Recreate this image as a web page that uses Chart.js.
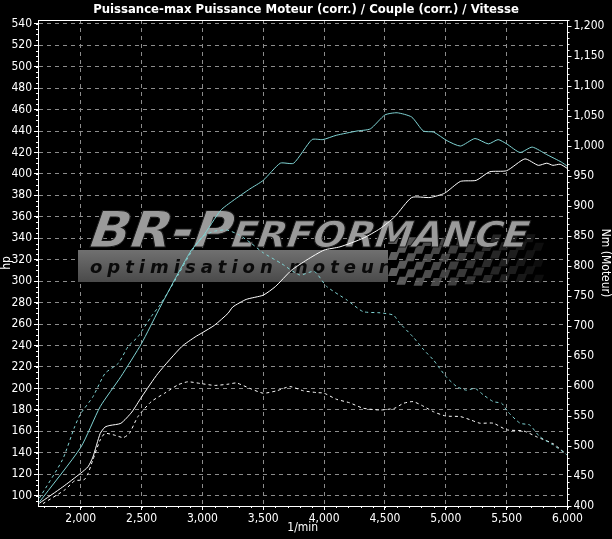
<!DOCTYPE html>
<html>
<head>
<meta charset="utf-8">
<script src="https://cdn.jsdelivr.net/npm/chart.js@4.4.1/dist/chart.umd.min.js"></script>
<style>
html, body { margin: 0; padding: 0; background: #000; }
canvas { display: block; }
</style>
</head>
<body>
<canvas id="dynoChart" width="612" height="539"></canvas>
<script>
// axis ticks
var hpTicks = [100, 120, 140, 160, 180, 200, 220, 240, 260, 280, 300, 320, 340, 360, 380, 400, 420, 440, 460, 480, 500, 520, 540];
var nmTicks = [400, 450, 500, 550, 600, 650, 700, 750, 800, 850, 900, 950, 1000, 1050, 1100, 1150, 1200];
var rpmTicks = [2000, 2500, 3000, 3500, 4000, 4500, 5000, 5500, 6000];

// Puissance-max (cyan, solid) - hp
var maxPowerRpm = [1660, 2000, 2160, 2330, 2500, 2640, 2770, 2910, 3000, 3150, 3250, 3390, 3500, 3640, 3750, 3900, 3990, 4100, 4270, 4380, 4500, 4600, 4720, 4815, 4900, 5010, 5120, 5240, 5350, 5430, 5500, 5610, 5710, 5830, 5950, 6000];
var maxPowerHp = [94, 145, 183, 211, 242, 273, 301, 329, 341, 366, 375, 386, 394, 410, 410, 432, 432, 436, 440, 442, 455, 457, 453, 440, 439, 431, 426, 433, 428, 432, 428, 420, 425, 418, 411, 407];

// Puissance Moteur (white, solid) - hp
var motorPowerRpm = [1660, 1850, 2000, 2060, 2100, 2160, 2200, 2240, 2330, 2420, 2500, 2635, 2830, 2940, 3000, 3100, 3210, 3250, 3360, 3500, 3600, 3730, 3860, 4000, 4130, 4320, 4460, 4580, 4720, 4870, 4990, 5120, 5250, 5360, 5500, 5650, 5760, 5830, 5880, 5940, 6000];
var motorPowerHp = [93, 108, 121, 127, 136, 158, 164, 165.5, 167.5, 178, 192, 214, 239, 248, 252, 259, 270, 276, 283, 287, 295, 310, 320, 329, 332, 340, 349, 360, 378, 378, 382, 393, 394, 402, 403, 414, 408, 410, 408, 409, 405];

// Couple max (cyan, dashed) - Nm
var maxTorqueRpm = [1660, 1850, 1950, 2000, 2100, 2200, 2310, 2390, 2470, 2580, 2640, 2720, 2800, 2910, 3000, 3100, 3200, 3300, 3400, 3500, 3650, 3800, 3920, 4020, 4190, 4320, 4460, 4570, 4620, 4730, 4820, 4900, 5000, 5090, 5170, 5240, 5310, 5390, 5460, 5510, 5610, 5690, 5770, 5880, 5980, 6000];
var maxTorqueNm = [413, 477, 532, 554, 582, 621, 638, 666, 682, 716, 732, 757, 785, 824, 849, 858, 860, 852, 838, 822, 804, 785, 791, 766, 743, 724, 722, 718, 705, 682, 660, 643, 616, 599, 593, 596, 585, 574, 571, 557, 538, 535, 516, 502, 488, 484];

// Couple moteur (white, dashed) - Nm
var motorTorqueRpm = [1690, 1870, 1950, 2000, 2030, 2060, 2100, 2160, 2200, 2280, 2350, 2400, 2470, 2580, 2690, 2800, 2880, 2990, 3100, 3210, 3280, 3390, 3500, 3610, 3720, 3830, 3940, 4000, 4100, 4210, 4320, 4460, 4580, 4650, 4730, 4800, 4900, 5000, 5120, 5210, 5280, 5390, 5500, 5640, 5750, 5880, 5980];
var motorTorqueNm = [404, 427, 442, 443, 444, 454, 477, 510, 521, 518, 514, 521, 549, 574, 588, 602, 607, 604, 601, 603, 605, 596, 588, 592, 599, 592, 589, 588, 578, 572, 563, 560, 563, 571, 574, 568, 557, 550, 549, 543, 538, 538, 527, 525, 515, 504, 488];

var cyan = '#7fd3d3';
var fontFamily = '"Liberation Sans Narrow", "Arial Narrow", "DejaVu Sans Condensed", "Liberation Sans", sans-serif';

function points(xs, ys) {
    return xs.map(function (x, i) { return { x: x, y: ys[i] }; });
}

function fixTicks(list) {
    return function (scale) {
        scale.ticks = list.map(function (v) { return { value: v }; });
    };
}

// small minor ticks between the labelled ones
var minorTicks = {
    id: 'minorTicks',
    afterDraw: function (chart) {
        var ctx = chart.ctx;
        var area = chart.chartArea;
        var defs = [['x', 100], ['y', 5], ['y2', 10]];
        ctx.save();
        ctx.strokeStyle = '#ffffff';
        ctx.lineWidth = 1;
        ctx.setLineDash([]);
        defs.forEach(function (d) {
            var s = chart.scales[d[0]];
            ctx.beginPath();
            for (var v = Math.ceil(s.min / d[1]) * d[1]; v <= s.max; v += d[1]) {
                var p = Math.round(s.getPixelForValue(v)) + 0.5;
                if (d[0] === 'x') {
                    ctx.moveTo(p, area.bottom); ctx.lineTo(p, area.bottom + 2);
                } else if (d[0] === 'y') {
                    ctx.moveTo(area.left, p); ctx.lineTo(area.left - 2, p);
                } else {
                    ctx.moveTo(area.right, p); ctx.lineTo(area.right + 2, p);
                }
            }
            ctx.stroke();
        });
        // frame round the plot
        ctx.strokeRect(Math.round(area.left) + 0.5, Math.round(area.top) + 0.5,
            Math.round(area.right - area.left) - 1, Math.round(area.bottom - area.top));
        ctx.restore();
    }
};

// BR-Performance logo behind the curves
var watermark = {
    id: 'watermark',
    beforeDatasetsDraw: function (chart) {
        var ctx = chart.ctx;
        ctx.save();
        // grey band
        var band = ctx.createLinearGradient(0, 250, 0, 282);
        band.addColorStop(0, '#707070');
        band.addColorStop(1, '#4a4a4a');
        ctx.fillStyle = band;
        ctx.fillRect(78, 250, 310, 32);
        // chequered flag
        for (var c = 0; c < 18; c++) {
            for (var r = 0; r < 6; r++) {
                if ((c + r) % 2) continue;
                var fade = 1 - c / 20;
                ctx.fillStyle = 'rgba(95,95,95,' + fade.toFixed(2) + ')';
                var x0 = 388 + c * 8.5, y0 = 236 + r * 8 + Math.sin(c / 3) * 2;
                ctx.beginPath();
                ctx.moveTo(x0 + 3, y0);
                ctx.lineTo(x0 + 11.5, y0);
                ctx.lineTo(x0 + 8.5, y0 + 8);
                ctx.lineTo(x0, y0 + 8);
                ctx.closePath();
                ctx.fill();
            }
        }
        // band text
        ctx.fillStyle = '#0a0a0a';
        ctx.font = 'italic bold 18px "DejaVu Sans", sans-serif';
        ctx.textBaseline = 'alphabetic';
        if ('letterSpacing' in ctx) ctx.letterSpacing = '5px';
        ctx.fillText('optimisation moteur', 90, 273);
        if ('letterSpacing' in ctx) ctx.letterSpacing = '0px';
        // big title
        var g = ctx.createLinearGradient(0, 205, 0, 250);
        g.addColorStop(0, '#9a9a9a');
        g.addColorStop(0.5, '#5a5a5a');
        g.addColorStop(1, '#2a2a2a');
        ctx.fillStyle = g;
        ctx.strokeStyle = '#1a1a1a';
        ctx.lineWidth = 1;
        ctx.translate(85, 247);
        ctx.transform(1, 0, -0.35, 1, 0, 0);
        ctx.font = 'bold 50px "DejaVu Sans", sans-serif';
        var w1 = ctx.measureText('BR-P').width;
        ctx.font = 'bold 36px "DejaVu Sans", sans-serif';
        var w2 = ctx.measureText('ERFORMANCE').width;
        var k = 440 / (w1 + w2);
        ctx.scale(k, 1);
        ctx.font = 'bold 50px "DejaVu Sans", sans-serif';
        ctx.fillText('BR-P', 0, 0);
        ctx.strokeText('BR-P', 0, 0);
        ctx.font = 'bold 36px "DejaVu Sans", sans-serif';
        ctx.fillText('ERFORMANCE', w1, 0);
        ctx.strokeText('ERFORMANCE', w1, 0);
        ctx.restore();
    }
};

var ctx = document.getElementById('dynoChart').getContext('2d');

var dynoChart = new Chart(ctx, {
    type: 'line',
    data: {
        datasets: [{
            label: 'Puissance-max',
            data: points(maxPowerRpm, maxPowerHp),
            yAxisID: 'y',
            borderColor: cyan,
            borderWidth: 1
        }, {
            label: 'Puissance Moteur (corr.)',
            data: points(motorPowerRpm, motorPowerHp),
            yAxisID: 'y',
            borderColor: '#ffffff',
            borderWidth: 1
        }, {
            label: 'Couple max',
            data: points(maxTorqueRpm, maxTorqueNm),
            yAxisID: 'y2',
            borderColor: cyan,
            borderWidth: 1,
            borderDash: [3, 3]
        }, {
            label: 'Couple (corr.)',
            data: points(motorTorqueRpm, motorTorqueNm),
            yAxisID: 'y2',
            borderColor: '#ffffff',
            borderWidth: 1,
            borderDash: [3, 3]
        }]
    },
    options: {
        responsive: false,
        animation: false,
        devicePixelRatio: 1,
        layout: { padding: 0 },
        elements: {
            point: { radius: 0 },
            line: { tension: 0.2, fill: false }
        },
        plugins: {
            legend: { display: false },
            tooltip: { enabled: false },
            title: {
                display: true,
                text: 'Puissance-max Puissance Moteur (corr.) / Couple (corr.) / Vitesse',
                color: '#ffffff',
                font: { family: fontFamily, size: 13, weight: 'bold', lineHeight: 1.2 },
                padding: { top: 2, bottom: 2.4 }
            }
        },
        scales: {
            x: {
                type: 'linear',
                position: 'bottom',
                min: 1649,
                max: 6000,
                afterBuildTicks: fixTicks(rpmTicks),
                afterFit: function (s) { s.height = 33; },
                ticks: {
                    color: '#ffffff',
                    font: { family: fontFamily, size: 12 },
                    padding: 2,
                    maxRotation: 0,
                    autoSkip: false,
                    callback: function (v) { return v.toLocaleString('en-US'); }
                },
                grid: { color: '#8c8c8c', tickColor: '#ffffff', tickLength: 4, tickBorderDash: [] },
                border: { display: true, color: '#ffffff', dash: [4, 4] },
                title: { display: true, text: '1/min', color: '#ffffff', font: { family: fontFamily, size: 12 }, padding: { top: 0, bottom: 4 } }
            },
            y: {
                type: 'linear',
                position: 'left',
                min: 90.4,
                max: 543.5,
                afterBuildTicks: fixTicks(hpTicks),
                afterFit: function (s) { s.width = 38; },
                ticks: {
                    color: '#ffffff',
                    font: { family: fontFamily, size: 12 },
                    padding: 2,
                    autoSkip: false
                },
                grid: { color: '#8c8c8c', tickColor: '#ffffff', tickLength: 4, tickBorderDash: [] },
                border: { display: true, color: '#ffffff', dash: [4, 4] },
                title: { display: true, text: 'hp', color: '#ffffff', font: { family: fontFamily, size: 12 }, padding: 0 }
            },
            y2: {
                type: 'linear',
                position: 'right',
                min: 400,
                max: 1210,
                afterBuildTicks: fixTicks(nmTicks),
                afterFit: function (s) { s.width = 44.5; },
                ticks: {
                    color: '#ffffff',
                    font: { family: fontFamily, size: 12 },
                    padding: 2,
                    autoSkip: false,
                    callback: function (v) { return v.toLocaleString('en-US'); }
                },
                grid: { drawOnChartArea: false, tickColor: '#ffffff', tickLength: 4, tickBorderDash: [] },
                border: { display: true, color: '#ffffff' },
                title: { display: true, text: 'Nm (Moteur)', color: '#ffffff', font: { family: fontFamily, size: 12 }, padding: 0 }
            }
        }
    },
    plugins: [watermark, minorTicks]
});
</script>
</body>
</html>
